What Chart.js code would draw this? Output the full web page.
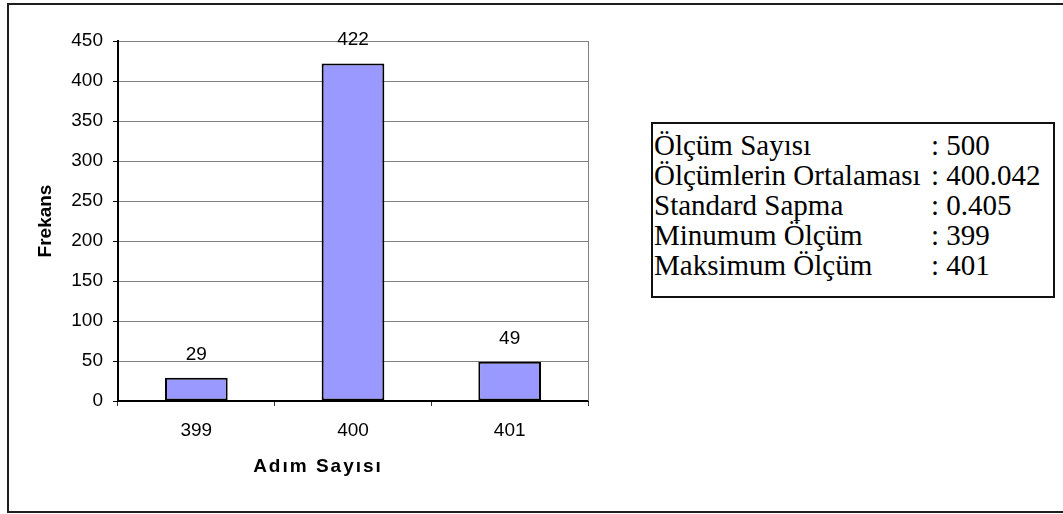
<!DOCTYPE html>
<html lang="tr">
<head>
<meta charset="utf-8">
<title>Adım Sayısı Frekans Dağılımı</title>
<script src="https://cdn.jsdelivr.net/npm/chart.js@4/dist/chart.umd.min.js"></script>
<style>
  html, body { margin: 0; padding: 0; background: #fff; overflow: hidden; }
  #wrap { position: relative; width: 1063px; height: 514px; }
  #frame {
    position: absolute; left: 7px; top: 3px; width: 1080px; height: 510px;
    box-sizing: border-box; border: 2px solid #1e1e1e;
  }
  #chart { position: absolute; left: 0; top: 0; }
  #stats {
    position: absolute; left: 651px; top: 122px; width: 404px; height: 176px;
    box-sizing: border-box; border: 2px solid #111; background: #fff;
    padding: 6px 0 0 1px;
    font-family: "Liberation Serif", "Times New Roman", serif;
    font-size: 29px; line-height: 30px; color: #000; white-space: nowrap;
  }
  #stats .lbl { display: inline-block; min-width: 277px; }
</style>
</head>
<body>
<div id="wrap">
  <div id="frame"></div>
  <canvas id="chart" width="1063" height="514"></canvas>
  <div id="stats"></div>
</div>
<script>
// Histogram data
const categories = ['399', '400', '401'];
const frequencies = [29, 422, 49];

// Y axis range
const yMin = 0;
const yMax = 450;
const yStep = 50;

// Axis titles
const xTitle = 'Adım Sayısı';
const yTitle = 'Frekans';

// Summary statistics
const statLabels = ['Ölçüm Sayısı', 'Ölçümlerin Ortalaması', 'Standard Sapma', 'Minumum Ölçüm', 'Maksimum Ölçüm'];
const statValues = ['500', '400.042', '0.405', '399', '401'];

// Build the statistics box
const statsBox = document.getElementById('stats');
statLabels.forEach((label, i) => {
  const row = document.createElement('div');
  const l = document.createElement('span');
  l.className = 'lbl';
  l.textContent = label + '\u00a0';
  row.appendChild(l);
  row.appendChild(document.createTextNode(': ' + statValues[i]));
  statsBox.appendChild(row);
});

const tickFont = { family: '"Liberation Sans", Arial, sans-serif', size: 19 };
const titleFont = { family: '"Liberation Sans", Arial, sans-serif', size: 19, weight: 'bold' };

// Value labels above each bar
const valueLabels = {
  id: 'valueLabels',
  afterDatasetsDraw(chart) {
    const ctx = chart.ctx;
    const meta = chart.getDatasetMeta(0);
    ctx.save();
    ctx.font = '19px "Liberation Sans", Arial, sans-serif';
    ctx.fillStyle = '#000';
    ctx.textAlign = 'center';
    ctx.textBaseline = 'alphabetic';
    meta.data.forEach((bar, i) => {
      ctx.fillText(String(chart.data.datasets[0].data[i]), bar.x, bar.y - 18);
    });
    ctx.restore();
  }
};

// Right edge of the plot area and the horizontal axis title
const plotFrame = {
  id: 'plotFrame',
  beforeDatasetsDraw(chart) {
    const { ctx, chartArea } = chart;
    ctx.save();
    ctx.strokeStyle = '#808080';
    ctx.lineWidth = 1;
    ctx.beginPath();
    ctx.moveTo(Math.round(chartArea.right) + 0.5, chartArea.top);
    ctx.lineTo(Math.round(chartArea.right) + 0.5, chartArea.bottom);
    ctx.stroke();
    ctx.restore();
  },
  afterDraw(chart) {
    const { ctx, chartArea } = chart;
    ctx.save();
    ctx.font = 'bold 19px "Liberation Sans", Arial, sans-serif';
    if ('letterSpacing' in ctx) ctx.letterSpacing = '2px';
    ctx.fillStyle = '#000';
    ctx.textAlign = 'center';
    ctx.textBaseline = 'middle';
    ctx.fillText(xTitle, chartArea.left + 200, chartArea.bottom + 66);
    ctx.restore();
  }
};

new Chart(document.getElementById('chart'), {
  type: 'bar',
  data: {
    labels: categories,
    datasets: [{
      data: frequencies,
      backgroundColor: '#9999FF',
      borderColor: '#000000',
      borderWidth: 2,
      borderSkipped: false,
      categoryPercentage: 1.0,
      barPercentage: 0.4
    }]
  },
  options: {
    responsive: false,
    animation: false,
    devicePixelRatio: 1,
    layout: { padding: { left: 0, top: 41, right: 475, bottom: 0 } },
    plugins: {
      legend: { display: false },
      tooltip: { enabled: false }
    },
    scales: {
      x: {
        afterFit(scale) { scale.height = 113; },
        grid: {
          offset: true,
          drawOnChartArea: false,
          drawTicks: true,
          tickLength: 5,
          tickColor: '#333',
          tickWidth: 1
        },
        border: { display: true, color: '#000', width: 2 },
        ticks: { color: '#000', font: tickFont, padding: 13, maxRotation: 0 }
      },
      y: {
        min: yMin,
        max: yMax,
        afterFit(scale) { scale.width = 118; },
        grid: {
          color: ctx => (ctx.tick && ctx.tick.value === 0 ? 'rgba(0,0,0,0)' : '#808080'),
          lineWidth: 1,
          drawTicks: true,
          tickLength: 5,
          tickColor: '#000'
        },
        border: { display: true, color: '#000', width: 2 },
        ticks: { stepSize: yStep, color: '#000', font: tickFont, padding: 10 },
        title: {
          display: true,
          text: yTitle,
          color: '#000',
          font: titleFont,
          padding: { top: 34, bottom: 0 }
        }
      }
    }
  },
  plugins: [valueLabels, plotFrame]
});
</script>
</body>
</html>
